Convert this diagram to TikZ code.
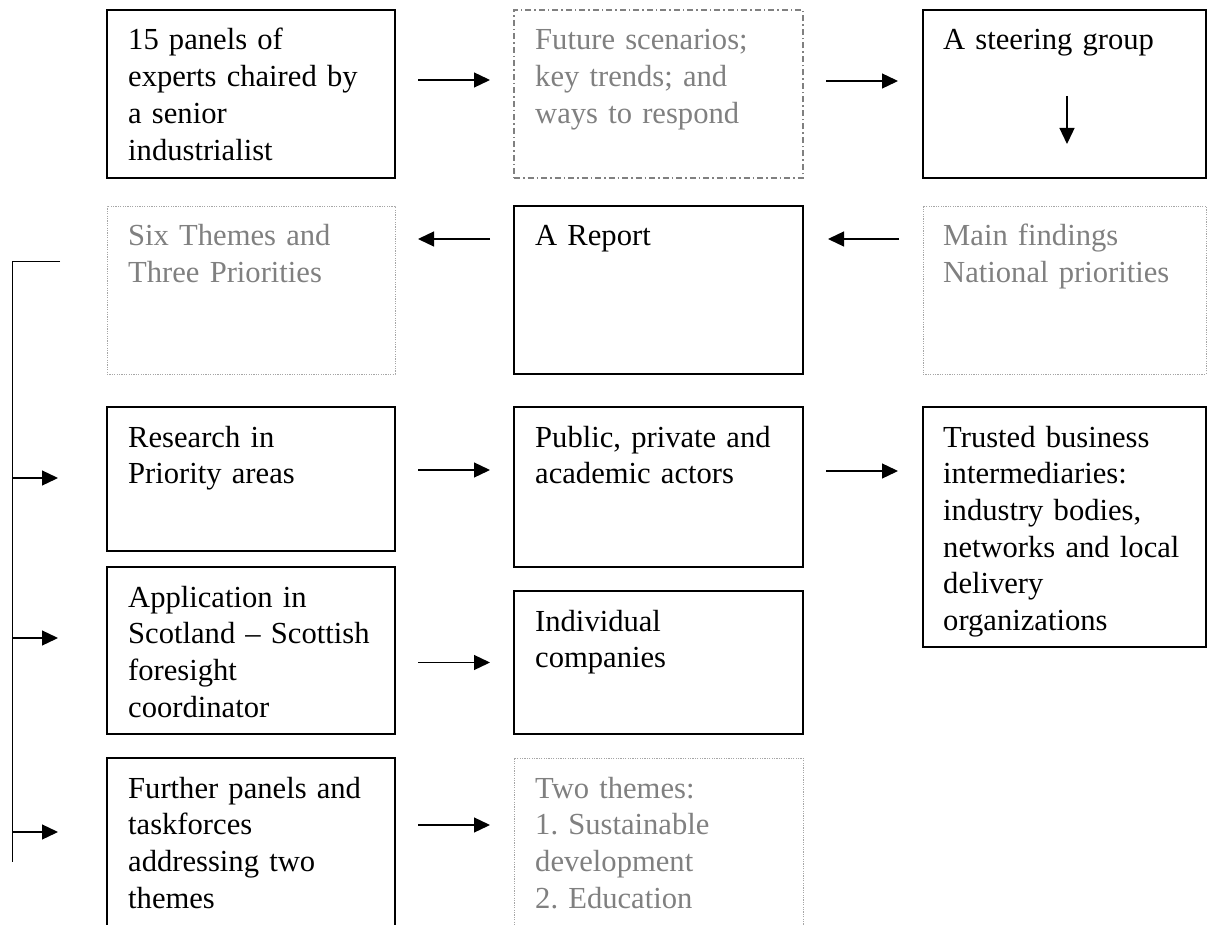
\documentclass[tikz,border=0pt]{standalone}
\usepackage{fontspec}
\setmainfont{Liberation Serif}
\usetikzlibrary{arrows.meta,positioning}
\frenchspacing

\begin{document}
\begin{tikzpicture}[
  x=1pt,y=-1pt,
  box/.style={draw,line width=1.3pt,inner sep=0pt,outer sep=0pt,anchor=north west},
  dotbox/.style={box,draw=gray!70,line width=0.9pt,dash pattern=on 1.2pt off 1.2pt},
  dashdotbox/.style={box,draw=gray,dash pattern=on 6pt off 3pt on 1.5pt off 3pt},
  txt/.style={anchor=base west,inner sep=0pt,text width=262pt,align=left,
    font=\fontsize{30.6}{36.7}\selectfont}, % first line sits on the anchor
  greytxt/.style={txt,text=gray},
  arr/.style={line width=1.3pt,-{Triangle[length=16pt,width=15pt]}},
  rail/.style={line width=1pt}
]
\useasboundingbox (0,0) rectangle (1207,925);
\clip (0,0) rectangle (1207,925);

% ---------------- row 1 ----------------
\node[box,minimum width=288pt,minimum height=168pt] (panels) at (107,10) {};
\node[dashdotbox,minimum width=289pt,minimum height=168pt] (scenarios) at (514,10) {};
\node[box,minimum width=283pt,minimum height=168pt] (steering) at (923,10) {};

\node[txt] (panels-t) at ([xshift=21pt,yshift=-40pt]panels.north west)
  {15 panels of\\experts chaired by\\a senior\\industrialist};
\node[greytxt] (scenarios-t) at ([xshift=21pt,yshift=-40pt]scenarios.north west)
  {Future scenarios;\\key trends; and\\ways to respond};
\node[txt] (steering-t) at ([xshift=20pt,yshift=-40pt]steering.north west)
  {A steering group};

% ---------------- row 2 ----------------
\node[dotbox,minimum width=288pt,minimum height=168pt] (themes) at (107,206) {};
\node[box,minimum width=289pt,minimum height=168pt] (report) at (514,206) {};
\node[dotbox,minimum width=283pt,minimum height=168pt] (findings) at (923,206) {};

\node[greytxt] (themes-t) at ([xshift=21pt,yshift=-40pt]themes.north west)
  {Six Themes and\\Three Priorities};
\node[txt] (report-t) at ([xshift=21pt,yshift=-40pt]report.north west)
  {A Report};
\node[greytxt] (findings-t) at ([xshift=20pt,yshift=-40pt]findings.north west)
  {Main findings\\National priorities};

% ---------------- rows 3 to 5 ----------------
\node[box,minimum width=288pt,minimum height=144pt] (research) at (107,407) {};
\node[box,minimum width=289pt,minimum height=160pt] (actors) at (514,407) {};
\node[box,minimum width=283pt,minimum height=240pt] (intermed) at (923,407) {};
\node[box,minimum width=288pt,minimum height=167pt] (applic) at (107,567) {};
\node[box,minimum width=289pt,minimum height=143pt] (companies) at (514,591) {};
\node[box,minimum width=288pt,minimum height=180pt] (further) at (107,758) {};
\node[dotbox,minimum width=289pt,minimum height=180pt] (twothemes) at (514,758) {};

\node[txt] (research-t) at ([xshift=21pt,yshift=-40pt]research.north west)
  {Research in\\Priority areas};
\node[txt] (actors-t) at ([xshift=21pt,yshift=-40pt]actors.north west)
  {Public, private and\\academic actors};
\node[txt] (intermed-t) at ([xshift=20pt,yshift=-40pt]intermed.north west)
  {Trusted business\\intermediaries:\\industry bodies,\\networks and local\\delivery\\organizations};
\node[txt] (applic-t) at ([xshift=21pt,yshift=-40pt]applic.north west)
  {Application in\\Scotland -- Scottish\\foresight\\coordinator};
\node[txt] (companies-t) at ([xshift=21pt,yshift=-40pt]companies.north west)
  {Individual\\companies};
\node[txt] (further-t) at ([xshift=21pt,yshift=-40pt]further.north west)
  {Further panels and\\taskforces\\addressing two\\themes};
\node[greytxt] (twothemes-t) at ([xshift=21pt,yshift=-40pt]twothemes.north west)
  {Two themes:\\1. Sustainable\\development\\2. Education};

% ---------------- arrows ----------------
\draw[arr,shorten <=23pt,shorten >=24pt] ([yshift=14pt]panels.east) -- ([yshift=14pt]scenarios.west);
\draw[arr,shorten <=23pt,shorten >=25pt] ([yshift=13pt]scenarios.east) -- ([yshift=13pt]steering.west);
\draw[arr,shorten <=2pt,shorten >=62pt] ([xshift=2.5pt]steering.center) -- ([xshift=2.5pt]findings.north);
\draw[arr,shorten <=24pt,shorten >=25pt] ([yshift=51pt]findings.west) -- ([yshift=51pt]report.east);
\draw[arr,shorten <=24pt,shorten >=23pt] ([yshift=51pt]report.west) -- ([yshift=51pt]themes.east);

\draw[arr,shorten <=23pt,shorten >=24pt] ([yshift=9pt]research.east) -- ([yshift=17pt]actors.west);
\draw[arr,shorten <=23pt,shorten >=25pt] ([yshift=16pt]actors.east) -- ([yshift=56pt]intermed.west);
\draw[arr,shorten <=23pt,shorten >=24pt] ([yshift=-12pt]applic.east) -- (companies.west);
\draw[arr,shorten <=23pt,shorten >=24pt] ([yshift=23pt]further.east) -- ([yshift=23pt]twothemes.west);

% rail on the left feeding the three lower rows
\coordinate (railtop) at (60,262);
\coordinate (railend) at (12,862);
\draw[rail] (railtop) -| (railend);
\coordinate (r1) at (12,478);
\coordinate (r2) at (12,638);
\coordinate (r3) at (12,832);
\draw[arr,shorten >=49pt] (r1) -- (r1 -| research.west);
\draw[arr,shorten >=49pt] (r2) -- (r2 -| applic.west);
\draw[arr,shorten >=49pt] (r3) -- (r3 -| further.west);

\end{tikzpicture}
\end{document}
